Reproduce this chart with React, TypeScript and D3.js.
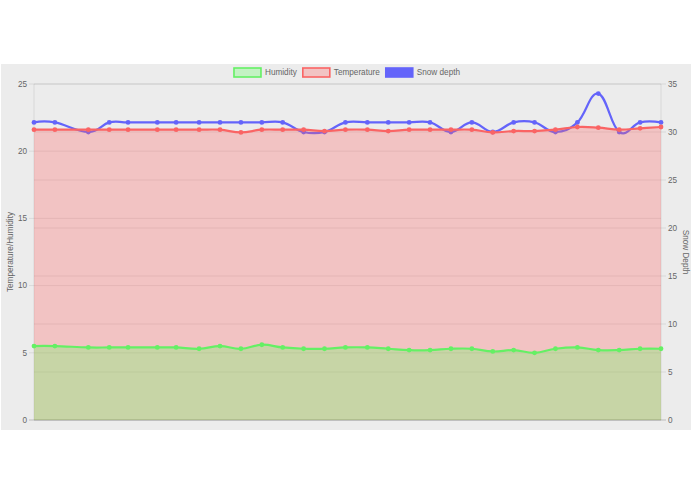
import React from 'react';
import * as d3 from 'd3';

// ---- data ----
const hours = [0, 1, 2.6, 3.6, 4.5, 5.9, 6.8, 7.9, 8.9, 9.9, 10.9, 11.9, 12.9, 13.9, 14.9, 15.95, 16.95, 17.95, 18.95, 19.95, 20.95, 21.95, 22.95, 23.95, 24.95, 26, 27, 28, 29, 30];
const humidity = [5.5, 5.5, 5.4, 5.4, 5.4, 5.4, 5.4, 5.3, 5.5, 5.3, 5.6, 5.4, 5.3, 5.3, 5.4, 5.4, 5.3, 5.2, 5.2, 5.3, 5.3, 5.1, 5.2, 5.0, 5.3, 5.4, 5.2, 5.2, 5.3, 5.3];
const temperature = [21.6, 21.6, 21.6, 21.6, 21.6, 21.6, 21.6, 21.6, 21.6, 21.4, 21.6, 21.6, 21.6, 21.5, 21.6, 21.6, 21.5, 21.6, 21.6, 21.6, 21.6, 21.4, 21.5, 21.5, 21.6, 21.8, 21.75, 21.6, 21.7, 21.8];
const snowDepth = [31, 31, 30, 31, 31, 31, 31, 31, 31, 31, 31, 31, 30, 30, 31, 31, 31, 31, 31, 30, 31, 30, 31, 31, 30, 31, 34, 30, 31, 31];
const leftTicks = [0, 5, 10, 15, 20, 25];
const rightTicks = [0, 5, 10, 15, 20, 25, 30, 35];
const legendLabels = ['Humidity', 'Temperature', 'Snow depth'];
const leftTitle = 'Temperature/Humidity';
const rightTitle = 'Snow Depth';

// ---- layout / style ----
const W = 695, H = 494;
const panel = { x: 1, y: 64, w: 690, h: 366 };
const plot = { left: 34, right: 661, top: 84, bottom: 420 };
const FONT = "'Liberation Sans', Arial, Helvetica, sans-serif";
const TEXT = '#666';
const GREEN = 'rgb(100,240,100)';
const GREEN_FILL = 'rgba(100,255,100,0.3)';
const RED = 'rgb(250,100,100)';
const RED_FILL = 'rgba(255,100,100,0.3)';
const BLUE = 'rgb(100,100,250)';

function measure(t: string, size: number) {
  const c = document.createElement('canvas').getContext('2d');
  if (!c) return t.length * size * 0.5;
  c.font = `${size}px ${FONT}`;
  return c.measureText(t).width;
}

export default function App() {
  const x = d3.scaleLinear().domain([hours[0], hours[hours.length - 1]]).range([plot.left, plot.right]);
  const yL = d3.scaleLinear().domain([0, 25]).range([plot.bottom, plot.top]);
  const yR = d3.scaleLinear().domain([0, 35]).range([plot.bottom, plot.top]);
  const curve = d3.curveCardinal.tension(-0.2);

  const mkLine = (vals: number[], y: d3.ScaleLinear<number, number>) =>
    d3.line<number>().x((_, i) => x(hours[i])).y((d) => y(d)).curve(curve)(vals) || '';
  const mkArea = (vals: number[], y: d3.ScaleLinear<number, number>) =>
    d3.area<number>().x((_, i) => x(hours[i])).y0(y(0)).y1((d) => y(d)).curve(curve)(vals) || '';

  const series = [
    { vals: snowDepth, y: yR, color: BLUE, fill: null as string | null },
    { vals: temperature, y: yL, color: RED, fill: RED_FILL },
    { vals: humidity, y: yL, color: GREEN, fill: GREEN_FILL },
  ];

  // legend
  const fs = 8.2;
  const boxW = 27, boxH = 9, boxGap = 4, itemGap = 6;
  const legendItems = [
    { label: legendLabels[0], fill: 'rgba(100,255,100,0.3)', stroke: GREEN },
    { label: legendLabels[1], fill: 'rgba(255,100,100,0.3)', stroke: RED },
    { label: legendLabels[2], fill: BLUE, stroke: BLUE },
  ];
  const widths = legendItems.map((it) => boxW + boxGap + measure(it.label, fs));
  const total = widths.reduce((a, b) => a + b, 0) + itemGap * (widths.length - 1);
  let lx = (panel.x + panel.x + panel.w) / 2 - total / 2 + 1;
  const legendPos = widths.map((w) => {
    const p = lx;
    lx += w + itemGap;
    return p;
  });
  const legendY = 68;

  const gridColor = 'rgba(0,0,0,0.1)';
  const zeroColor = 'rgba(0,0,0,0.25)';
  const midY = (plot.top + plot.bottom) / 2;

  return (
    <svg width={W} height={H} style={{ position: 'absolute', left: 0, top: 0, display: 'block' }} fontFamily={FONT}>
      <rect x={0} y={0} width={W} height={H} fill="#fff" />
      <rect x={panel.x} y={panel.y} width={panel.w} height={panel.h} fill="#ececec" />

      {/* gridlines left axis */}
      {leftTicks.map((t) => (
        <g key={'lg' + t}>
          <line x1={plot.left - 5} x2={plot.right} y1={yL(t)} y2={yL(t)} stroke={t === 0 ? zeroColor : gridColor} strokeWidth={0.8} />
          <text x={plot.left - 7} y={yL(t)} dy="0.33em" textAnchor="end" fontSize={fs} fill={TEXT}>{t}</text>
        </g>
      ))}
      {/* gridlines right axis */}
      {rightTicks.map((t) => (
        <g key={'rg' + t}>
          <line x1={plot.left} x2={plot.right + 5} y1={yR(t)} y2={yR(t)} stroke={t === 0 ? zeroColor : gridColor} strokeWidth={0.8} />
          <text x={plot.right + 7} y={yR(t)} dy="0.33em" textAnchor="start" fontSize={fs} fill={TEXT}>{t}</text>
        </g>
      ))}
      <line x1={plot.left} x2={plot.left} y1={plot.top} y2={plot.bottom} stroke={gridColor} strokeWidth={0.8} />
      <line x1={plot.right} x2={plot.right} y1={plot.top} y2={plot.bottom} stroke={gridColor} strokeWidth={0.8} />

      {/* axis titles */}
      <text transform={`translate(10,${midY}) rotate(-90)`} textAnchor="middle" dy="0.33em" fontSize={fs} fill={TEXT}>{leftTitle}</text>
      <text transform={`translate(686,${midY}) rotate(90)`} textAnchor="middle" dy="0.33em" fontSize={fs} fill={TEXT}>{rightTitle}</text>

      {/* series */}
      {series.map((s, k) => (
        <g key={'s' + k}>
          {s.fill && <path d={mkArea(s.vals, s.y)} fill={s.fill} stroke="none" />}
          <path d={mkLine(s.vals, s.y)} fill="none" stroke={s.color} strokeWidth={2.2} />
          {s.vals.map((v, i) => (
            <circle key={i} cx={x(hours[i])} cy={s.y(v)} r={2.4} fill={s.color} />
          ))}
        </g>
      ))}

      {/* legend */}
      {legendItems.map((it, i) => (
        <g key={'lgd' + i}>
          <rect x={legendPos[i]} y={legendY} width={boxW} height={boxH} fill={it.fill} stroke={it.stroke} strokeWidth={1.6} />
          <text x={legendPos[i] + boxW + boxGap} y={legendY + boxH / 2} dy="0.35em" fontSize={fs} fill={TEXT}>{it.label}</text>
        </g>
      ))}
    </svg>
  );
}
